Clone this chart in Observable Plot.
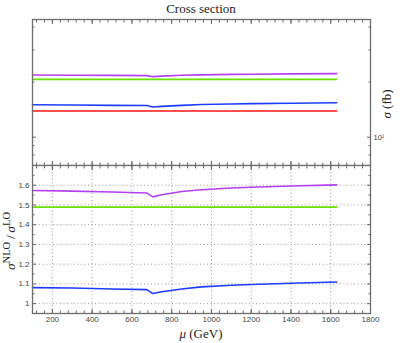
<!DOCTYPE html>
<html><head><meta charset="utf-8">
<script src="https://cdn.jsdelivr.net/npm/d3@7"></script>
<script src="https://cdn.jsdelivr.net/npm/@observablehq/plot@0.6"></script>
<style>
body{margin:0;background:#fff;}
#wrap{position:relative;width:403px;height:343px;overflow:hidden;background:#fff;}
#wrap svg{position:absolute;left:0;}
.lab{position:absolute;font-family:"Liberation Serif","DejaVu Serif",serif;color:#222;white-space:nowrap;line-height:1;}
.rot{transform:translate(-50%,-50%) rotate(-90deg);}
sup{font-size:78%;vertical-align:0.5em;line-height:0;}
</style></head><body>
<div id="wrap">
  <div class="lab" style="left:0;width:402px;top:2px;text-align:center;font-size:13px;">Cross section</div>
  <div class="lab rot" style="left:386px;top:104px;font-size:13px;"><i>σ</i>&nbsp;(fb)</div>
  <div class="lab rot" style="left:11px;top:241px;font-size:13.5px;"><i>σ</i><sup>NLO</sup>&thinsp;/&thinsp;<i>σ</i><sup>LO</sup></div>
  <div class="lab" style="left:0;width:402px;top:327px;text-align:center;font-size:13px;"><i>μ</i>&nbsp;(GeV)</div>
</div>
<script>
// μ (GeV)
const mu = [100, 300, 500, 675, 705, 750, 850, 950, 1100, 1200, 1400, 1630];
// cross sections σ (fb), top panel
const sigmaRed    = [13.9, 13.9, 13.9, 13.9, 13.9, 13.9, 13.9, 13.9, 13.9, 13.9, 13.9, 13.9];
const sigmaBlue   = [15.03, 15.00, 14.93, 14.89, 14.61, 14.73, 14.93, 15.08, 15.19, 15.25, 15.33, 15.43];
const sigmaGreen  = [20.70, 20.70, 20.70, 20.70, 20.70, 20.70, 20.70, 20.70, 20.70, 20.70, 20.70, 20.70];
const sigmaPurple = [21.86, 21.82, 21.77, 21.70, 21.42, 21.57, 21.80, 21.92, 22.05, 22.10, 22.18, 22.27];
// K factors σNLO/σLO, bottom panel
const kBlue   = [1.081, 1.079, 1.074, 1.071, 1.051, 1.060, 1.074, 1.085, 1.093, 1.097, 1.103, 1.110];
const kGreen  = [1.489, 1.489, 1.489, 1.489, 1.489, 1.489, 1.489, 1.489, 1.489, 1.489, 1.489, 1.489];
const kPurple = [1.573, 1.570, 1.566, 1.561, 1.541, 1.552, 1.568, 1.577, 1.586, 1.590, 1.596, 1.602];

const colors = {red: "#ff1414", blue: "#1e3cff", green: "#6ae000", purple: "#b440ee"};

// tick values
const xMajor = [200, 400, 600, 800, 1000, 1200, 1400, 1600, 1800];
const xMinor = d3.range(120, 1800, 40);
const yLogMajor = [10];
const yLogMinor = [8, 9, 20, 30, 40];
const yKMajor = [1, 1.1, 1.2, 1.3, 1.4, 1.5, 1.6];
const yKMinor = [0.95, 1.05, 1.15, 1.25, 1.35, 1.45, 1.55, 1.65];

const rows = (vals) => mu.map((m, i) => ({mu: m, v: vals[i]}));
const tickStroke = "#666";
const blank = () => "";
const inward = (axis, data, anchor, size) =>
  axis(data, {anchor, tickSize: -size, tickFormat: blank, label: null, stroke: tickStroke});

const style = {fontFamily: "'Liberation Sans', Arial, sans-serif", fontSize: "8px", color: "#444", background: "transparent"};

const topPlot = Plot.plot({
  width: 403, height: 166,
  marginTop: 19, marginBottom: 1, marginLeft: 32, marginRight: 33,
  style,
  x: {domain: [100, 1800]},
  y: {type: "log", domain: [7, 44]},
  marks: [
    inward(Plot.axisX, xMinor, "top", 2.5),
    inward(Plot.axisX, xMajor, "top", 4),
    inward(Plot.axisX, xMinor, "bottom", 2.5),
    inward(Plot.axisX, xMajor, "bottom", 4),
    inward(Plot.axisY, yLogMinor, "left", 2.5),
    inward(Plot.axisY, yLogMajor, "left", 4),
    inward(Plot.axisY, yLogMinor, "right", 2.5),
    Plot.axisY(yLogMajor, {anchor: "right", tickSize: -4, tickPadding: 7, tickFormat: () => "10¹", label: null, stroke: tickStroke, fontSize: 7.5}),
    Plot.line(rows(sigmaRed), {x: "mu", y: "v", stroke: colors.red, strokeWidth: 1.6}),
    Plot.line(rows(sigmaBlue), {x: "mu", y: "v", stroke: colors.blue, strokeWidth: 1.6}),
    Plot.line(rows(sigmaGreen), {x: "mu", y: "v", stroke: colors.green, strokeWidth: 1.6}),
    Plot.line(rows(sigmaPurple), {x: "mu", y: "v", stroke: colors.purple, strokeWidth: 1.6}),
    Plot.frame({stroke: "#6e6e6e", strokeWidth: 1.3})
  ]
});
topPlot.style.top = "0px";

const botPlot = Plot.plot({
  width: 403, height: 179,
  marginTop: 1, marginBottom: 30, marginLeft: 32, marginRight: 33,
  style,
  x: {domain: [100, 1800]},
  y: {domain: [0.95, 1.7]},
  marks: [
    Plot.gridX(xMajor, {stroke: "#9a9a9a", strokeOpacity: 1, strokeDasharray: "1,2.5"}),
    Plot.gridY(yKMajor, {stroke: "#9a9a9a", strokeOpacity: 1, strokeDasharray: "1,2.5"}),
    Plot.axisY(yKMajor, {anchor: "left", tickSize: 0, tickPadding: 3, tickFormat: d => `${d}`, label: null}),
    Plot.axisX(xMajor, {anchor: "bottom", tickSize: 0, tickPadding: 3, tickFormat: d => `${d}`, label: null}),
    inward(Plot.axisX, xMinor, "top", 2.5),
    inward(Plot.axisX, xMajor, "top", 4),
    inward(Plot.axisX, xMinor, "bottom", 2.5),
    inward(Plot.axisX, xMajor, "bottom", 4),
    inward(Plot.axisY, yKMinor, "left", 2.5),
    inward(Plot.axisY, yKMajor, "left", 4),
    inward(Plot.axisY, yKMinor, "right", 2.5),
    inward(Plot.axisY, yKMajor, "right", 4),
    Plot.line(rows(kBlue), {x: "mu", y: "v", stroke: colors.blue, strokeWidth: 1.6}),
    Plot.line(rows(kGreen), {x: "mu", y: "v", stroke: colors.green, strokeWidth: 1.6}),
    Plot.line(rows(kPurple), {x: "mu", y: "v", stroke: colors.purple, strokeWidth: 1.6}),
    Plot.frame({stroke: "#6e6e6e", strokeWidth: 1.3})
  ]
});
botPlot.style.top = "164px";

const wrap = document.getElementById("wrap");
wrap.insertBefore(botPlot, wrap.firstChild);
wrap.insertBefore(topPlot, wrap.firstChild);
</script>
</body></html>
